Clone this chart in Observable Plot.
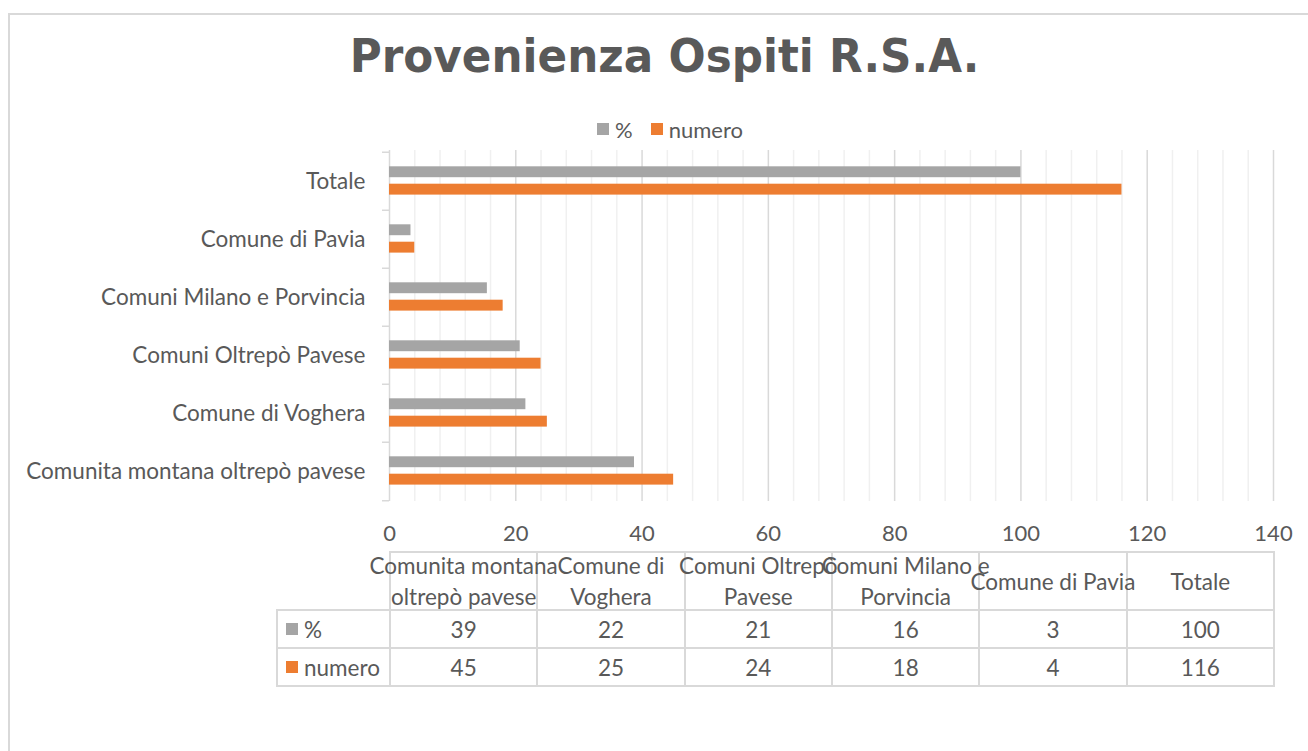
<!DOCTYPE html>
<html>
<head>
<meta charset="utf-8">
<script src="https://cdn.jsdelivr.net/npm/d3@7"></script>
<script src="https://cdn.jsdelivr.net/npm/@observablehq/plot@0.6"></script>
<style>
  html, body { margin: 0; padding: 0; background: #fff; }
  #root { position: relative; width: 1308px; height: 751px; overflow: hidden; font-family: Lato, "Open Sans", sans-serif; color: #595959; }
  #frame { position: absolute; left: 8px; top: 13px; width: 1400px; height: 800px; border-left: 2px solid #d9d9d9; border-top: 2px solid #d9d9d9; }
  #titlewrap { position: absolute; left: 0; width: 1330px; top: 32px; text-align: center; }
  #title { display: inline-block; transform: scaleX(0.93); font-family: "DejaVu Sans", sans-serif; font-weight: bold; font-size: 47px; line-height: 47px; color: #595959; }
  #legend { position: absolute; left: 0; width: 1340px; top: 119px; height: 20px; display: flex; justify-content: center; align-items: center; font-size: 22px; }
  .litem { display: flex; align-items: center; margin: 0 9px; }
  .sw { display: inline-block; width: 12px; height: 12px; margin-right: 6px; }
  #chart { position: absolute; left: 0; top: 140px; }
  #tbl { position: absolute; left: 276px; top: 551px; width: 999px; border-collapse: collapse; table-layout: fixed; font-size: 22.5px; color: #595959; }
  #tbl td { border: 2px solid #d9d9d9; padding: 0; text-align: center; overflow: visible; }
  #tbl td.corner { border-top: none; border-left: none; }
  #tbl tr.head td { height: 56px; }
  #tbl tr.row td { height: 36px; }
  .hc { display: flex; justify-content: center; align-items: center; height: 56px; }
  .hc span { white-space: pre; text-align: center; line-height: 31px; }
  td.lab { text-align: left !important; }
  .labin { display: flex; align-items: center; padding-left: 8px; }
</style>
</head>
<body>
<div id="root">
  <div id="frame"></div>
  <div id="titlewrap"><span id="title"></span></div>
  <div id="legend"></div>
  <div id="chart"></div>
  <table id="tbl"></table>
</div>
<script>
// ---- data ----
const titleText = "Provenienza Ospiti R.S.A.";
const categories = [
  "Comunita montana oltrepò pavese",
  "Comune di Voghera",
  "Comuni Oltrepò Pavese",
  "Comuni Milano e Porvincia",
  "Comune di Pavia",
  "Totale"
];
const tableHeaders = [
  "Comunita montana\noltrepò pavese",
  "Comune di\nVoghera",
  "Comuni Oltrepò\nPavese",
  "Comuni Milano e\nPorvincia",
  "Comune di Pavia",
  "Totale"
];
const pctValues = [38.8, 21.6, 20.7, 15.5, 3.4, 100];
const numValues = [45, 25, 24, 18, 4, 116];
const seriesNames = ["%", "numero"];
const seriesColors = ["#a5a5a5", "#ed7d31"];
const xTicks = [0, 20, 40, 60, 80, 100, 120, 140];
const xMinorTicks = [4, 8, 12, 16, 24, 28, 32, 36, 44, 48, 52, 56, 64, 68, 72, 76, 84, 88, 92, 96, 104, 108, 112, 116, 124, 128, 132, 136];

// ---- layout ----
const W = 1308, H = 406, mt = 10, mb = 45, ml = 389, mr = 35;
const step = (H - mt - mb) / categories.length;
const barH = 11.4;

document.getElementById("title").textContent = titleText;

// legend
const legend = d3.select("#legend");
seriesNames.forEach((s, i) => {
  const it = legend.append("div").attr("class", "litem");
  it.append("span").attr("class", "sw").style("background", seriesColors[i]);
  it.append("span").text(s);
});

const rows = [];
categories.forEach((c, i) => {
  rows.push({cat: c, series: seriesNames[0], value: pctValues[i]});
  rows.push({cat: c, series: seriesNames[1], value: numValues[i]});
});

const chart = Plot.plot({
  width: W, height: H,
  marginLeft: ml, marginRight: mr, marginTop: mt, marginBottom: mb,
  style: {fontFamily: "Lato, sans-serif", fontSize: "22px", color: "#595959", background: "transparent", overflow: "visible"},
  x: {domain: [0, 140], axis: null, label: null},
  y: {domain: categories.slice().reverse(), padding: 0, axis: null, label: null},
  color: {domain: seriesNames, range: seriesColors},
  marks: [
    Plot.gridX({ticks: xMinorTicks, stroke: "#f0f0f0", strokeOpacity: 1, strokeWidth: 1.5}),
    Plot.gridX({ticks: xTicks, stroke: "#d9d9d9", strokeOpacity: 1, strokeWidth: 1.5}),
    Plot.axisY({tickSize: 7, tickFormat: () => "", label: null, dy: -step / 2, stroke: "#d9d9d9", strokeWidth: 1.5}),
    Plot.axisY({ticks: [categories[0]], tickSize: 7, tickFormat: () => "", label: null, dy: step / 2, stroke: "#d9d9d9", strokeWidth: 1.5}),
    Plot.axisY({tickSize: 0, tickPadding: 24, fontSize: 22.5, label: null, fill: "#595959"}),
    Plot.axisX({ticks: xTicks, tickSize: 0, tickPadding: 24, fontSize: 22, label: null, fill: "#595959"}),
    Plot.barX(rows.filter(d => d.series === seriesNames[0]), {
      x: "value", y: "cat", fill: "series", insetTop: 14.3, insetBottom: step - 14.3 - barH
    }),
    Plot.barX(rows.filter(d => d.series === seriesNames[1]), {
      x: "value", y: "cat", fill: "series", insetTop: 31.7, insetBottom: step - 31.7 - barH
    })
  ]
});
document.getElementById("chart").appendChild(chart);

// data table
const tbl = d3.select("#tbl");
const cg = tbl.append("colgroup");
cg.append("col").style("width", "113px");
categories.forEach(() => cg.append("col").style("width", (884 / categories.length) + "px"));
const hr = tbl.append("tr").attr("class", "head");
hr.append("td").attr("class", "corner");
tableHeaders.forEach(h => hr.append("td").append("div").attr("class", "hc").append("span").text(h));
[pctValues, numValues].forEach((vals, si) => {
  const tr = tbl.append("tr").attr("class", "row");
  const lab = tr.append("td").attr("class", "lab").append("div").attr("class", "labin");
  lab.append("span").attr("class", "sw").style("background", seriesColors[si]);
  lab.append("span").text(seriesNames[si]);
  vals.forEach(v => tr.append("td").text(d3.format(".0f")(v)));
});
</script>
</body>
</html>
